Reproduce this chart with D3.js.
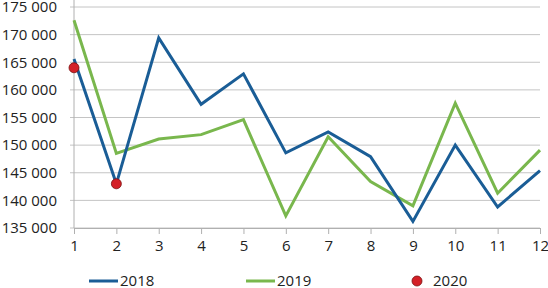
<!DOCTYPE html>
<html>
<head>
<meta charset="utf-8">
<script src="https://cdn.jsdelivr.net/npm/d3@7"></script>
<style>
  body { margin: 0; background: #fff; }
  svg { display: block; font-family: "Open Sans", sans-serif; }
</style>
</head>
<body>
<svg id="chart" width="548" height="288"></svg>
<script>
// months on the x axis
const months = [1, 2, 3, 4, 5, 6, 7, 8, 9, 10, 11, 12];
const yTicks = [135000, 140000, 145000, 150000, 155000, 160000, 165000, 170000, 175000];

const values2018 = [165600, 143000, 169400, 157400, 162900, 148600, 152400, 147900, 136200, 150000, 138800, 145400];
const values2019 = [172600, 148500, 151100, 151900, 154600, 137200, 151500, 143400, 139000, 157600, 141300, 149100];
// 2020 only has the first two months
const values2020 = [164000, 143000];

const seriesNames = ["2018", "2019", "2020"];
const colors = ["#1a5d96", "#79b74d", "#d42027"];

const svg = d3.select("#chart");
const margin = {top: 7, right: 8, bottom: 60, left: 74};
const width = 548, height = 288;

const x = d3.scalePoint()
    .domain(months)
    .range([margin.left, width - margin.right]);

const y = d3.scaleLinear()
    .domain([135000, 175000])
    .range([height - margin.bottom, margin.top]);

const fmt = v => d3.format(",")(v).replace(/,/g, " ");

// horizontal grid
svg.append("g")
    .selectAll("line")
    .data(yTicks)
    .join("line")
    .attr("x1", margin.left - 4)
    .attr("x2", width - margin.right)
    .attr("y1", d => y(d))
    .attr("y2", d => y(d))
    .attr("stroke", "#c4c4c4")
    .attr("stroke-width", 1);

// y labels
svg.append("g")
    .attr("font-size", 15)
    .attr("fill", "#222")
    .attr("text-anchor", "end")
    .selectAll("text")
    .data(yTicks)
    .join("text")
    .attr("x", margin.left - 17)
    .attr("y", d => y(d))
    .attr("dy", "0.35em")
    .text(fmt);

// y axis line
svg.append("line")
    .attr("x1", margin.left).attr("x2", margin.left)
    .attr("y1", 0).attr("y2", y(135000))
    .attr("stroke", "#b0b0b0");

// x axis
const xAxis = svg.append("g")
    .attr("transform", `translate(0,${y(135000)})`)
    .call(d3.axisBottom(x).tickSize(6).tickPadding(6));
xAxis.select(".domain").attr("stroke", "#b0b0b0");
xAxis.selectAll(".tick line").attr("stroke", "#b0b0b0");
xAxis.selectAll(".tick text")
    .attr("font-size", 15)
    .attr("font-family", "Open Sans, sans-serif")
    .attr("fill", "#222");

const line = d3.line()
    .x((d, i) => x(months[i]))
    .y(d => y(d));

[values2019, values2018].forEach((vals, k) => {
    svg.append("path")
        .datum(vals)
        .attr("fill", "none")
        .attr("stroke", k === 0 ? colors[1] : colors[0])
        .attr("stroke-width", 3)
        .attr("stroke-linejoin", "miter")
        .attr("d", line);
});

svg.append("g")
    .selectAll("circle")
    .data(values2020)
    .join("circle")
    .attr("cx", (d, i) => x(months[i]))
    .attr("cy", d => y(d))
    .attr("r", 5)
    .attr("fill", colors[2])
    .attr("stroke", "#7a1010")
    .attr("stroke-width", 0.8);

// legend
const legend = svg.append("g").attr("font-size", 15).attr("fill", "#222");
const legendX = [89, 246, 417];
seriesNames.forEach((name, i) => {
    const g = legend.append("g").attr("transform", `translate(${legendX[i]},281)`);
    if (i < 2) {
        g.append("line").attr("x1", 0).attr("x2", 29)
            .attr("stroke", colors[i]).attr("stroke-width", 3);
        g.append("text").attr("x", 31).attr("dy", "0.35em").text(name);
    } else {
        g.append("circle").attr("r", 5).attr("fill", colors[2])
            .attr("stroke", "#7a1010").attr("stroke-width", 0.8);
        g.append("text").attr("x", 16).attr("dy", "0.35em").text(name);
    }
});
</script>
</body>
</html>
